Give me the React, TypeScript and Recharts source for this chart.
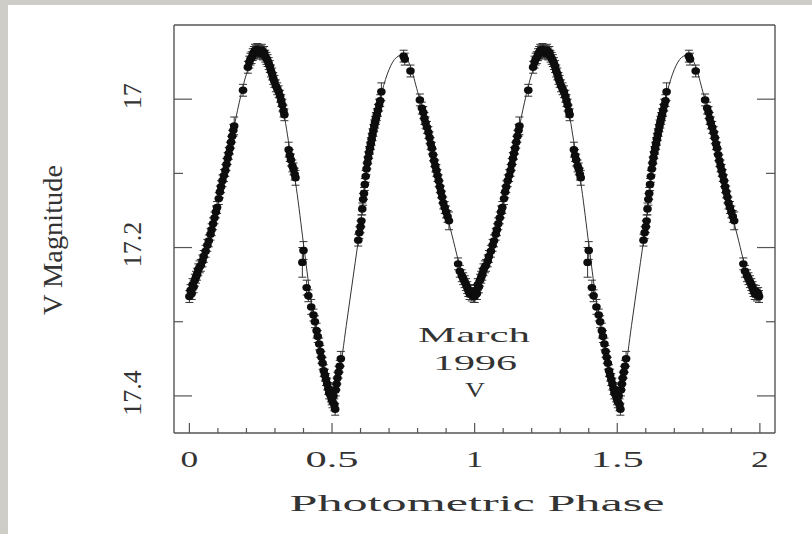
import React from "react";
import {
  ComposedChart,
  Scatter,
  Line,
  XAxis,
  YAxis,
  ErrorBar,
  Customized,
} from "recharts";

// folded V-band photometry: [phase, V magnitude, 1-sigma error]
const observations: [number, number, number][] = [
  [0.0, 17.266, 0.008], [0.004, 17.258, 0.008], [0.008, 17.262, 0.008], [0.011, 17.25, 0.008],
  [0.015, 17.253, 0.008], [0.019, 17.244, 0.008], [0.023, 17.24, 0.008], [0.027, 17.236, 0.008],
  [0.031, 17.23, 0.008], [0.036, 17.226, 0.008], [0.04, 17.224, 0.008], [0.046, 17.218, 0.008],
  [0.05, 17.212, 0.008], [0.057, 17.205, 0.008], [0.063, 17.197, 0.008], [0.068, 17.191, 0.008],
  [0.074, 17.182, 0.008], [0.078, 17.176, 0.008], [0.083, 17.168, 0.008], [0.088, 17.16, 0.008],
  [0.093, 17.152, 0.008], [0.097, 17.146, 0.008], [0.103, 17.134, 0.008], [0.107, 17.125, 0.008],
  [0.111, 17.118, 0.008], [0.116, 17.11, 0.008], [0.121, 17.103, 0.008], [0.126, 17.096, 0.008],
  [0.13, 17.088, 0.008], [0.134, 17.08, 0.008], [0.138, 17.073, 0.008], [0.142, 17.066, 0.008],
  [0.146, 17.058, 0.008], [0.15, 17.05, 0.008], [0.154, 17.042, 0.008], [0.157, 17.036, 0.012],
  [0.188, 16.988, 0.008],
  [0.205, 16.957, 0.008], [0.21, 16.95, 0.008], [0.214, 16.946, 0.008], [0.218, 16.944, 0.008],
  [0.222, 16.94, 0.008], [0.226, 16.937, 0.008], [0.23, 16.934, 0.008], [0.234, 16.936, 0.008],
  [0.238, 16.933, 0.008], [0.242, 16.935, 0.008], [0.246, 16.938, 0.008], [0.25, 16.936, 0.008],
  [0.254, 16.934, 0.008], [0.258, 16.939, 0.008], [0.262, 16.937, 0.008], [0.266, 16.942, 0.008],
  [0.27, 16.945, 0.008], [0.274, 16.948, 0.008], [0.278, 16.952, 0.008], [0.282, 16.956, 0.008],
  [0.286, 16.962, 0.008], [0.29, 16.966, 0.008], [0.294, 16.972, 0.008], [0.298, 16.976, 0.008],
  [0.303, 16.982, 0.008], [0.308, 16.986, 0.008], [0.313, 16.99, 0.008], [0.318, 16.996, 0.008],
  [0.322, 17.002, 0.008], [0.326, 17.008, 0.008], [0.33, 17.016, 0.008], [0.333, 17.021, 0.008],
  [0.348, 17.068, 0.01], [0.352, 17.076, 0.008], [0.356, 17.082, 0.008], [0.361, 17.09, 0.008],
  [0.365, 17.094, 0.008], [0.369, 17.101, 0.008], [0.372, 17.106, 0.01],
  [0.396, 17.22, 0.02], [0.4, 17.204, 0.012], [0.411, 17.254, 0.01], [0.417, 17.265, 0.008],
  [0.427, 17.28, 0.01], [0.435, 17.291, 0.008], [0.44, 17.3, 0.008], [0.446, 17.312, 0.01],
  [0.45, 17.32, 0.008], [0.455, 17.33, 0.008], [0.459, 17.34, 0.008], [0.463, 17.348, 0.008],
  [0.467, 17.356, 0.008], [0.471, 17.366, 0.008], [0.475, 17.372, 0.008], [0.479, 17.378, 0.008],
  [0.483, 17.384, 0.008], [0.487, 17.39, 0.008], [0.49, 17.396, 0.008], [0.493, 17.392, 0.008],
  [0.496, 17.4, 0.008], [0.499, 17.404, 0.008], [0.502, 17.408, 0.008], [0.505, 17.4, 0.008],
  [0.508, 17.412, 0.008], [0.511, 17.418, 0.008], [0.513, 17.392, 0.008], [0.516, 17.384, 0.008],
  [0.519, 17.376, 0.008], [0.523, 17.368, 0.008], [0.527, 17.36, 0.008], [0.531, 17.35, 0.01],
  [0.592, 17.19, 0.008], [0.596, 17.18, 0.008], [0.6, 17.172, 0.008], [0.603, 17.164, 0.008],
  [0.606, 17.148, 0.008], [0.609, 17.135, 0.008], [0.612, 17.127, 0.008], [0.615, 17.115, 0.008],
  [0.618, 17.104, 0.008], [0.621, 17.094, 0.008], [0.624, 17.086, 0.008], [0.627, 17.079, 0.008],
  [0.63, 17.072, 0.008], [0.633, 17.066, 0.008], [0.636, 17.06, 0.008], [0.639, 17.054, 0.008],
  [0.642, 17.048, 0.008], [0.645, 17.042, 0.008], [0.648, 17.036, 0.008], [0.651, 17.031, 0.008],
  [0.654, 17.026, 0.008], [0.657, 17.021, 0.008], [0.661, 17.015, 0.008], [0.665, 17.008, 0.008],
  [0.669, 17.002, 0.008], [0.673, 16.99, 0.012],
  [0.751, 16.942, 0.008], [0.755, 16.946, 0.008], [0.775, 16.962, 0.008],
  [0.808, 17.001, 0.008], [0.815, 17.012, 0.008], [0.82, 17.018, 0.008], [0.824, 17.026, 0.008],
  [0.828, 17.032, 0.008], [0.833, 17.038, 0.008], [0.838, 17.045, 0.008], [0.842, 17.052, 0.008],
  [0.846, 17.06, 0.008], [0.85, 17.066, 0.008], [0.854, 17.075, 0.008], [0.858, 17.083, 0.008],
  [0.862, 17.09, 0.008], [0.866, 17.096, 0.008], [0.87, 17.103, 0.008], [0.874, 17.11, 0.008],
  [0.878, 17.118, 0.008], [0.882, 17.125, 0.008], [0.886, 17.132, 0.008], [0.89, 17.14, 0.008],
  [0.895, 17.146, 0.008], [0.9, 17.152, 0.008], [0.905, 17.158, 0.008], [0.91, 17.164, 0.012],
  [0.942, 17.222, 0.008], [0.948, 17.232, 0.008], [0.955, 17.238, 0.008], [0.96, 17.242, 0.008],
  [0.965, 17.246, 0.008], [0.97, 17.25, 0.008], [0.974, 17.254, 0.008], [0.978, 17.258, 0.008],
  [0.982, 17.262, 0.008], [0.986, 17.259, 0.008], [0.99, 17.264, 0.008], [0.994, 17.262, 0.008],
  [0.997, 17.266, 0.008],
];

// model light curve over one cycle, every 0.025 in phase
const fitPhases = [
  0, 0.025, 0.05, 0.075, 0.1, 0.125, 0.15, 0.175, 0.2, 0.225, 0.25, 0.275, 0.3, 0.325,
  0.35, 0.375, 0.4, 0.425, 0.45, 0.475, 0.5, 0.525, 0.55, 0.575, 0.6, 0.625, 0.65, 0.675,
  0.7, 0.725, 0.75, 0.775, 0.8, 0.825, 0.85, 0.875, 0.9, 0.925, 0.95, 0.975, 1,
];
const fitMags = [
  17.262, 17.24, 17.214, 17.183, 17.142, 17.097, 17.05, 17.004, 16.966, 16.943, 16.936,
  16.947, 16.974, 17.006, 17.063, 17.12, 17.195, 17.268, 17.322, 17.372, 17.402, 17.372,
  17.305, 17.237, 17.168, 17.088, 17.033, 16.99, 16.96, 16.944, 16.94, 16.956, 16.99,
  17.025, 17.066, 17.113, 17.152, 17.19, 17.228, 17.252, 17.262,
];

const phaseTicks = [
  0, 0.1, 0.2, 0.3, 0.4, 0.5, 0.6, 0.7, 0.8, 0.9, 1, 1.1, 1.2, 1.3, 1.4, 1.5, 1.6, 1.7,
  1.8, 1.9, 2,
];
const phaseLabels = ["0", "0.5", "1", "1.5", "2"];
const magTicks = [17, 17.1, 17.2, 17.3, 17.4];
const magLabels = ["17", "17.2", "17.4"];

// plot the cycle twice
const points = [0, 1].flatMap((cycle) =>
  observations.map(([phase, mag, err]) => ({ phase: phase + cycle, mag, err }))
);
const curve = [0, 1].flatMap((cycle) =>
  fitPhases
    .map((phase, i) => ({ phase: phase + cycle, mag: fitMags[i] }))
    .filter((_, i) => cycle === 0 || i > 0)
);

const W = 812;
const H = 534;
const PLOT = { left: 174, right: 775, top: 25, bottom: 433 };
const AXIS = "#555";
const INK = "#333";
const SERIF = "'Liberation Serif', serif";

const labelOf = (v: number, labels: string[]) =>
  labels.find((s) => Math.abs(parseFloat(s) - v) < 1e-6);

const BottomTick = (props: any) => {
  const { x, payload } = props;
  const label = labelOf(payload.value, phaseLabels);
  return (
    <g>
      <line x1={x} x2={x} y1={PLOT.bottom} y2={PLOT.bottom - (label ? 10 : 5)} stroke={AXIS} strokeWidth={1.2} />
      {label && (
        <text
          x={x}
          y={467}
          textAnchor="middle"
          fontFamily={SERIF}
          fontSize={23}
          fill={INK}
          textLength={label.length * 17.7}
          lengthAdjust="spacingAndGlyphs"
        >
          {label}
        </text>
      )}
    </g>
  );
};

const TopTick = (props: any) => {
  const { x, payload } = props;
  const major = labelOf(payload.value, phaseLabels);
  return (
    <line x1={x} x2={x} y1={PLOT.top} y2={PLOT.top + (major ? 10 : 5)} stroke={AXIS} strokeWidth={1.2} />
  );
};

const LeftTick = (props: any) => {
  const { y, payload } = props;
  const label = labelOf(payload.value, magLabels);
  return (
    <g>
      <line x1={PLOT.left} x2={PLOT.left + (label ? 18 : 9)} y1={y} y2={y} stroke={AXIS} strokeWidth={1.2} />
      {label && (
        <text
          x={141}
          y={y - 3}
          transform={`rotate(-90 141 ${y - 3})`}
          textAnchor="middle"
          fontFamily={SERIF}
          fontSize={26}
          fill={INK}
        >
          {label}
        </text>
      )}
    </g>
  );
};

const RightTick = (props: any) => {
  const { y, payload } = props;
  const major = labelOf(payload.value, magLabels);
  return <line x1={PLOT.right} x2={PLOT.right - (major ? 18 : 9)} y1={y} y2={y} stroke={AXIS} strokeWidth={1.2} />;
};

const Dot = (props: any) => {
  const { cx, cy } = props;
  if (cx == null || cy == null) return null;
  return <ellipse cx={cx} cy={cy} rx={4.3} ry={3.7} fill="#0d0d0d" />;
};

const Titles = () => (
  <g fill={INK} fontFamily={SERIF}>
    <text x={477} y={511} textAnchor="middle" fontSize={23} textLength={375} lengthAdjust="spacingAndGlyphs">
      Photometric Phase
    </text>
    <text
      x={62}
      y={240}
      transform="rotate(-90 62 240)"
      textAnchor="middle"
      fontSize={28}
      textLength={150}
      lengthAdjust="spacingAndGlyphs"
    >
      V Magnitude
    </text>
    <text x={474} y={342} textAnchor="middle" fontSize={22} textLength={112} lengthAdjust="spacingAndGlyphs">
      March
    </text>
    <text x={475} y={370} textAnchor="middle" fontSize={22} textLength={84} lengthAdjust="spacingAndGlyphs">
      1996
    </text>
    <text x={475} y={397} textAnchor="middle" fontSize={22} textLength={20} lengthAdjust="spacingAndGlyphs">
      V
    </text>
  </g>
);

export default function App() {
  const xDomain: [number, number] = [-0.054, 2.053];
  const yDomain: [number, number] = [16.9, 17.45];
  return (
    <div style={{ position: "fixed", left: 0, top: 0, width: W, height: H, background: "#cfcdc8", overflow: "hidden" }}>
      <div style={{ position: "absolute", left: 8, top: 5, width: W - 8, height: H - 5, background: "#fff" }} />
      <div style={{ position: "absolute", left: 0, top: 0 }}>
        <ComposedChart
          width={W}
          height={H}
          margin={{ top: 20, right: 27, bottom: 41, left: 74 }}
        >
          <XAxis
            xAxisId="bottom"
            dataKey="phase"
            type="number"
            domain={xDomain}
            ticks={phaseTicks}
            allowDataOverflow
            height={60}
            axisLine={{ stroke: AXIS, strokeWidth: 1.4 }}
            tickLine={false}
            tick={<BottomTick />}
            interval={0}
          />
          <XAxis
            xAxisId="top"
            orientation="top"
            type="number"
            domain={xDomain}
            ticks={phaseTicks}
            allowDataOverflow
            height={5}
            axisLine={{ stroke: AXIS, strokeWidth: 1.4 }}
            tickLine={false}
            tick={<TopTick />}
            interval={0}
          />
          <YAxis
            yAxisId="left"
            type="number"
            reversed
            domain={yDomain}
            ticks={magTicks}
            allowDataOverflow
            width={100}
            axisLine={{ stroke: AXIS, strokeWidth: 1.4 }}
            tickLine={false}
            tick={<LeftTick />}
            interval={0}
          />
          <YAxis
            yAxisId="right"
            orientation="right"
            type="number"
            reversed
            domain={yDomain}
            ticks={magTicks}
            allowDataOverflow
            width={10}
            axisLine={{ stroke: AXIS, strokeWidth: 1.4 }}
            tickLine={false}
            tick={<RightTick />}
            interval={0}
          />
          <Line
            xAxisId="bottom"
            yAxisId="left"
            data={curve}
            dataKey="mag"
            type="monotone"
            stroke="#333"
            strokeWidth={1}
            dot={false}
            activeDot={false}
            isAnimationActive={false}
          />
          <Scatter
            xAxisId="bottom"
            yAxisId="left"
            data={points}
            dataKey="mag"
            shape={<Dot />}
            isAnimationActive={false}
          >
            <ErrorBar dataKey="err" direction="y" width={4} stroke="#333" strokeWidth={1} />
          </Scatter>
          <Customized component={Titles} />
        </ComposedChart>
      </div>
    </div>
  );
}
